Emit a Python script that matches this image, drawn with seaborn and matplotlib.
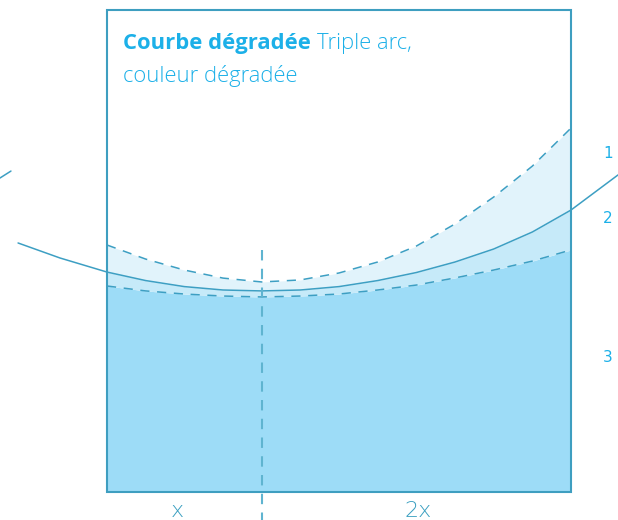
import numpy as np
import pandas as pd
import matplotlib
matplotlib.use("Agg")
import matplotlib.pyplot as plt
import seaborn as sns
from matplotlib.transforms import IdentityTransform

S = 154.67  # pixels per unit

# ---- data (units: width of the left part "x" = 1), heights ----
u_box = [0, 0.25, 0.5, 0.75, 1.0, 1.25, 1.5, 1.75, 2.0, 2.25, 2.5, 2.75, 3.0]
arc1 = [1.597, 1.506, 1.435, 1.383, 1.358, 1.371, 1.416, 1.487, 1.590, 1.733, 1.907, 2.107, 2.353]
arc2_in = [1.422, 1.367, 1.328, 1.306, 1.300, 1.306, 1.328, 1.367, 1.419, 1.487, 1.571, 1.681, 1.823]
arc3 = [1.332, 1.300, 1.280, 1.267, 1.261, 1.267, 1.280, 1.306, 1.338, 1.384, 1.435, 1.493, 1.565]
u_arc2 = [-0.575, -0.304] + u_box + [3.304]
arc2 = [1.610, 1.513] + arc2_in + [2.050]
u_seg = [-0.692, -0.621]
seg = [2.030, 2.075]
box_w, box_h = 3.0, 3.116
split_x = 1.0
split_top = 1.565
bottom_labels = ["x", "2x"]
bottom_label_x = [0.455, 2.01]
arc_labels = ["1", "2", "3"]
arc_label_y = [2.19, 1.77, 0.87]

line_c = "#3d9fc3"
text_c = "#1cb0e8"

sns.set_style("white")
fig = plt.figure(figsize=(6.18, 5.2), dpi=100)
ax = fig.add_axes([0, 0, 1, 1])
ax.set_xlim(-107 / S, 511 / S)
ax.set_ylim(-28 / S, 492 / S)
ax.axis("off")

# fills
ax.fill_between(u_box, 0, arc3, color="#9ddcf7", lw=0, zorder=1)
ax.fill_between(u_box, arc3, arc2_in, color="#c6eaf9", lw=0, zorder=1)
ax.fill_between(u_box, arc2_in, arc1, color="#e1f3fb", lw=0, zorder=1)

d1 = pd.DataFrame({"u": u_box, "v": arc1})
d2 = pd.DataFrame({"u": u_arc2, "v": arc2})
d3 = pd.DataFrame({"u": u_box, "v": arc3})
ds = pd.DataFrame({"u": u_seg, "v": seg})
sns.lineplot(data=d1, x="u", y="v", ax=ax, color=line_c, lw=1.1, sort=False,
             linestyle=(0, (6, 5)), zorder=3)
sns.lineplot(data=d3, x="u", y="v", ax=ax, color=line_c, lw=1.1, sort=False,
             linestyle=(0, (6, 5)), zorder=3)
sns.lineplot(data=d2, x="u", y="v", ax=ax, color=line_c, lw=1.1, sort=False, zorder=3)
sns.lineplot(data=ds, x="u", y="v", ax=ax, color=line_c, lw=1.1, sort=False, zorder=3)

# vertical split
ax.plot([split_x, split_x], [split_top, -28 / S], color="#5fb4d0", lw=1.5,
        linestyle=(0, (5, 4)), zorder=3)

# box
ax.add_patch(plt.Rectangle((0, 0), box_w, box_h, fill=False, ec="#3e9ec0", lw=1.5, zorder=4))

# labels
for lab, x in zip(bottom_labels, bottom_label_x):
    ax.text(x, -19 / S, lab, color="#3a9fc0", fontsize=16, ha="center", va="center",
            family="DejaVu Sans", fontweight="light")
for lab, y in zip(arc_labels, arc_label_y):
    ax.text((608 - 107) / S, y, lab, color=text_c, fontsize=11, ha="center", va="center",
            family="DejaVu Sans")

# title
t1 = ax.text((123 - 107) / S, (492 - 43) / S, "Courbe dégradée", color=text_c,
             fontsize=15.8, fontweight="bold", family="Open Sans", va="center", ha="left")
fig.canvas.draw()
bb = t1.get_window_extent()
ax.text(bb.x1 + 6, (bb.y0 + bb.y1) / 2, "Triple arc,", color=text_c, fontsize=15.8,
        family="Open Sans", fontweight="light", va="center", ha="left",
        transform=IdentityTransform())
ax.text((123 - 107) / S, (492 - 76) / S, "couleur dégradée", color=text_c,
        fontsize=15.8, family="Open Sans", fontweight="light", va="center", ha="left")

fig.savefig("out.png", dpi=100)
